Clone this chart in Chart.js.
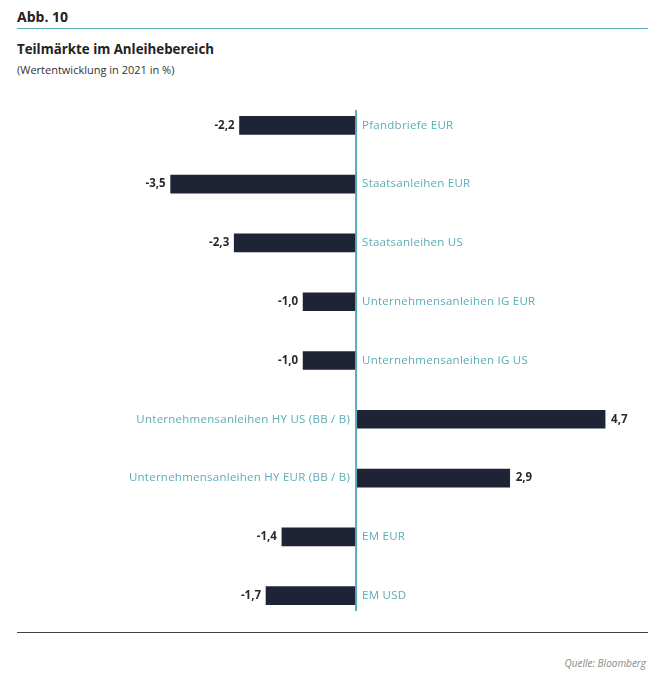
<!DOCTYPE html>
<html>
<head>
<meta charset="utf-8">
<script src="https://cdn.jsdelivr.net/npm/chart.js@4.4.1/dist/chart.umd.min.js"></script>
<style>
    body { margin: 0; background: #fff; font-family: 'Open Sans', sans-serif; }
    #page { position: relative; width: 662px; height: 673px; }
    .abb { position: absolute; left: 17px; top: 7px; font-size: 14px; font-weight: 700; color: #222; }
    .rule-top { position: absolute; left: 17px; top: 28px; width: 631px; height: 1px; background: #5aacb6; }
    .title { position: absolute; left: 17px; top: 40px; font-size: 13.3px; font-weight: 700; color: #222; }
    .sub { position: absolute; left: 17px; top: 62px; font-size: 11px; color: #333; }
    .rule-bottom { position: absolute; left: 17px; top: 632px; width: 631px; height: 1px; background: #444; }
    .source { position: absolute; right: 16px; top: 656px; font-size: 10px; font-style: italic; color: #888; }
    #wrap { position: absolute; left: 17px; top: 96px; width: 631px; height: 529px; }
</style>
</head>
<body>
<div id="page">
    <div class="abb">Abb. 10</div>
    <div class="rule-top"></div>
    <div class="title">Teilmärkte im Anleihebereich</div>
    <div class="sub">(Wertentwicklung in 2021 in %)</div>
    <div id="wrap"><canvas id="chart"></canvas></div>
    <div class="rule-bottom"></div>
    <div class="source">Quelle: Bloomberg</div>
</div>
<script>
const categories = [
    'Pfandbriefe EUR',
    'Staatsanleihen EUR',
    'Staatsanleihen US',
    'Unternehmensanleihen IG EUR',
    'Unternehmensanleihen IG US',
    'Unternehmensanleihen HY US (BB / B)',
    'Unternehmensanleihen HY EUR (BB / B)',
    'EM EUR',
    'EM USD',
]
const values = [-2.2, -3.5, -2.3, -1.0, -1.0, 4.7, 2.9, -1.4, -1.7]

const BAR_COLOR = '#1f2336'
const TEAL = '#5aacb6'

const labelPlugin = {
    id: 'labels',
    afterDatasetsDraw(chart) {
        const ctx = chart.ctx
        const x = chart.scales.x
        const area = chart.chartArea
        const zero = x.getPixelForValue(0)

        ctx.save()
        ctx.strokeStyle = TEAL
        ctx.lineWidth = 2
        ctx.beginPath()
        ctx.moveTo(zero, area.top + 14)
        ctx.lineTo(zero, area.bottom - 14)
        ctx.stroke()

        const meta = chart.getDatasetMeta(0)
        meta.data.forEach((bar, i) => {
            const v = values[i]
            const y = bar.y
            ctx.textBaseline = 'middle'
            ctx.font = '11.5px "Open Sans"'
            ctx.letterSpacing = '0.25px'
            ctx.fillStyle = TEAL
            if (v < 0) {
                ctx.textAlign = 'left'
                ctx.fillText(categories[i], zero + 6, y)
            } else {
                ctx.textAlign = 'right'
                ctx.fillText(categories[i], zero - 6, y)
            }
            ctx.font = 'bold 11.5px "Open Sans"'
            ctx.letterSpacing = '0px'
            ctx.fillStyle = '#2a2a2a'
            const txt = v.toFixed(1).replace('.', ',')
            if (v < 0) {
                ctx.textAlign = 'right'
                ctx.fillText(txt, bar.x - 5, y)
            } else {
                ctx.textAlign = 'left'
                ctx.fillText(txt, bar.x + 6, y)
            }
        })
        ctx.restore()
    },
}

new Chart(document.getElementById('chart'), {
    type: 'bar',
    data: {
        labels: categories,
        datasets: [{
            data: values,
            backgroundColor: BAR_COLOR,
            borderWidth: 0,
            barThickness: 18,
        }],
    },
    options: {
        indexAxis: 'y',
        responsive: true,
        maintainAspectRatio: false,
        animation: false,
        layout: { padding: 0 },
        plugins: {
            legend: { display: false },
            tooltip: { enabled: false },
        },
        scales: {
            x: { display: false, min: -6.40, max: 5.51 },
            y: { display: false },
        },
    },
    plugins: [labelPlugin],
})
</script>
</body>
</html>
